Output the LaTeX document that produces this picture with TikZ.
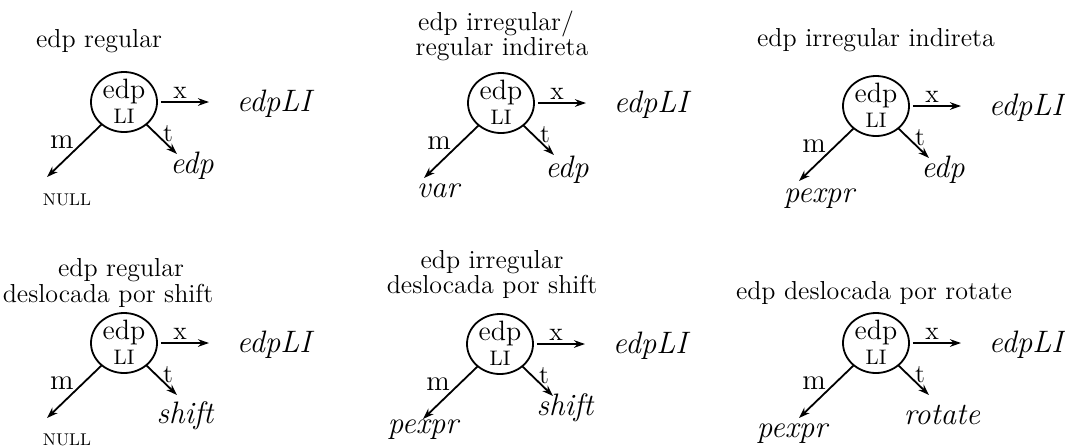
\documentclass[tikz,border=0pt]{standalone}
\usetikzlibrary{shapes.geometric,arrows.meta}
\tikzset{
  ring/.style={draw, ellipse, minimum width=33pt, minimum height=30pt, inner sep=0pt, line width=0.9pt},
  arr/.style={-{Stealth[length=5.5pt,width=3.8pt]}, line width=0.9pt},
  ttl/.style={font=\fontsize{13}{15}\selectfont, inner sep=0pt},
  cin/.style={font=\fontsize{14}{16}\selectfont, inner sep=0pt, anchor=base},
  cli/.style={font=\fontsize{10.5}{12}\selectfont, inner sep=0pt, anchor=base},
  lbl/.style={font=\fontsize{13}{15}\selectfont, inner sep=0pt, anchor=base},
  mlbl/.style={font=\fontsize{14.4}{16}\selectfont, inner sep=0pt, anchor=base},
  ital/.style={font=\fontsize{15.5}{17}\selectfont\itshape, inner sep=0pt, anchor=base},
  nul/.style={font=\fontsize{8.5}{10}\selectfont, inner sep=0pt, anchor=base},
}
% #1 prefix, #2 cx, #3 cy, #4 t-target text, #5 its position, #6 m-target style, #7 m-target text, #8 its position
\newcommand\LIPanel[8]{%
\begin{scope}[shift={(#2,#3)}]
  \node[ring] (#1c) at (0,0) {};
  \node[cin] (#1e) at (0,-4) {edp};
  \node[cli] (#1l) at (0,21) {LI};
  \coordinate (#1xe) at (85,0);
  \node[ital] (#1x) at (150,9) {edpLI};
  \draw[arr] ([xshift=1.5pt]#1c.east) -- (#1xe);
  \node[lbl] (#1xl) at (56,-4) {x};
  \coordinate (#1te) at (53,52);
  \draw[arr] (#1c.-45) -- (#1te);
  \node[lbl] (#1tl) at (44,39) {t};
  \node[ital] (#1tt) at #5 {#4};
  \coordinate (#1me) at (-77,75);
  \draw[arr] (#1c.-135) -- (#1me);
  \node[mlbl] (#1ml) at (-62,46) {m};
  \node[#6] (#1mt) at #8 {#7};
\end{scope}}
\begin{document}
\begin{tikzpicture}[x=0.5pt,y=-0.5pt]
\useasboundingbox (0,0) rectangle (1065,446);
% titles
\node[ttl] (t1) at (99,41) {edp regular};
\node[ttl] (t2a) at (496,24) {edp irregular/};
\node[ttl] (t2b) at (502,49) {regular indireta};
\node[ttl] (t3) at (876,40) {edp irregular indireta};
\node[ttl] (t4a) at (121,270) {edp regular};
\node[ttl] (t4b) at (108,296) {deslocada por shift};
\node[ttl] (t5a) at (492,262) {edp irregular};
\node[ttl] (t5b) at (492,287) {deslocada por shift};
\node[ttl] (t6) at (874,293) {edp deslocada por rotate};
% panels
\LIPanel{a}{124}{102}{edp}{(68,71)}{nul}{NULL}{(-57,103)}
\LIPanel{b}{501}{103}{edp}{(66,74)}{ital}{var}{(-63,94)}
\LIPanel{c}{876}{106}{edp}{(67,71)}{ital}{pexpr}{(-57,96)}
\LIPanel{d}{124}{343}{shift}{(61,80)}{nul}{NULL}{(-57,102)}
\LIPanel{e}{500}{344}{shift}{(65,71)}{ital}{pexpr}{(-77,89)}
\LIPanel{f}{876}{343}{rotate}{(66,81)}{ital}{pexpr}{(-84,94)}
\end{tikzpicture}
\end{document}
